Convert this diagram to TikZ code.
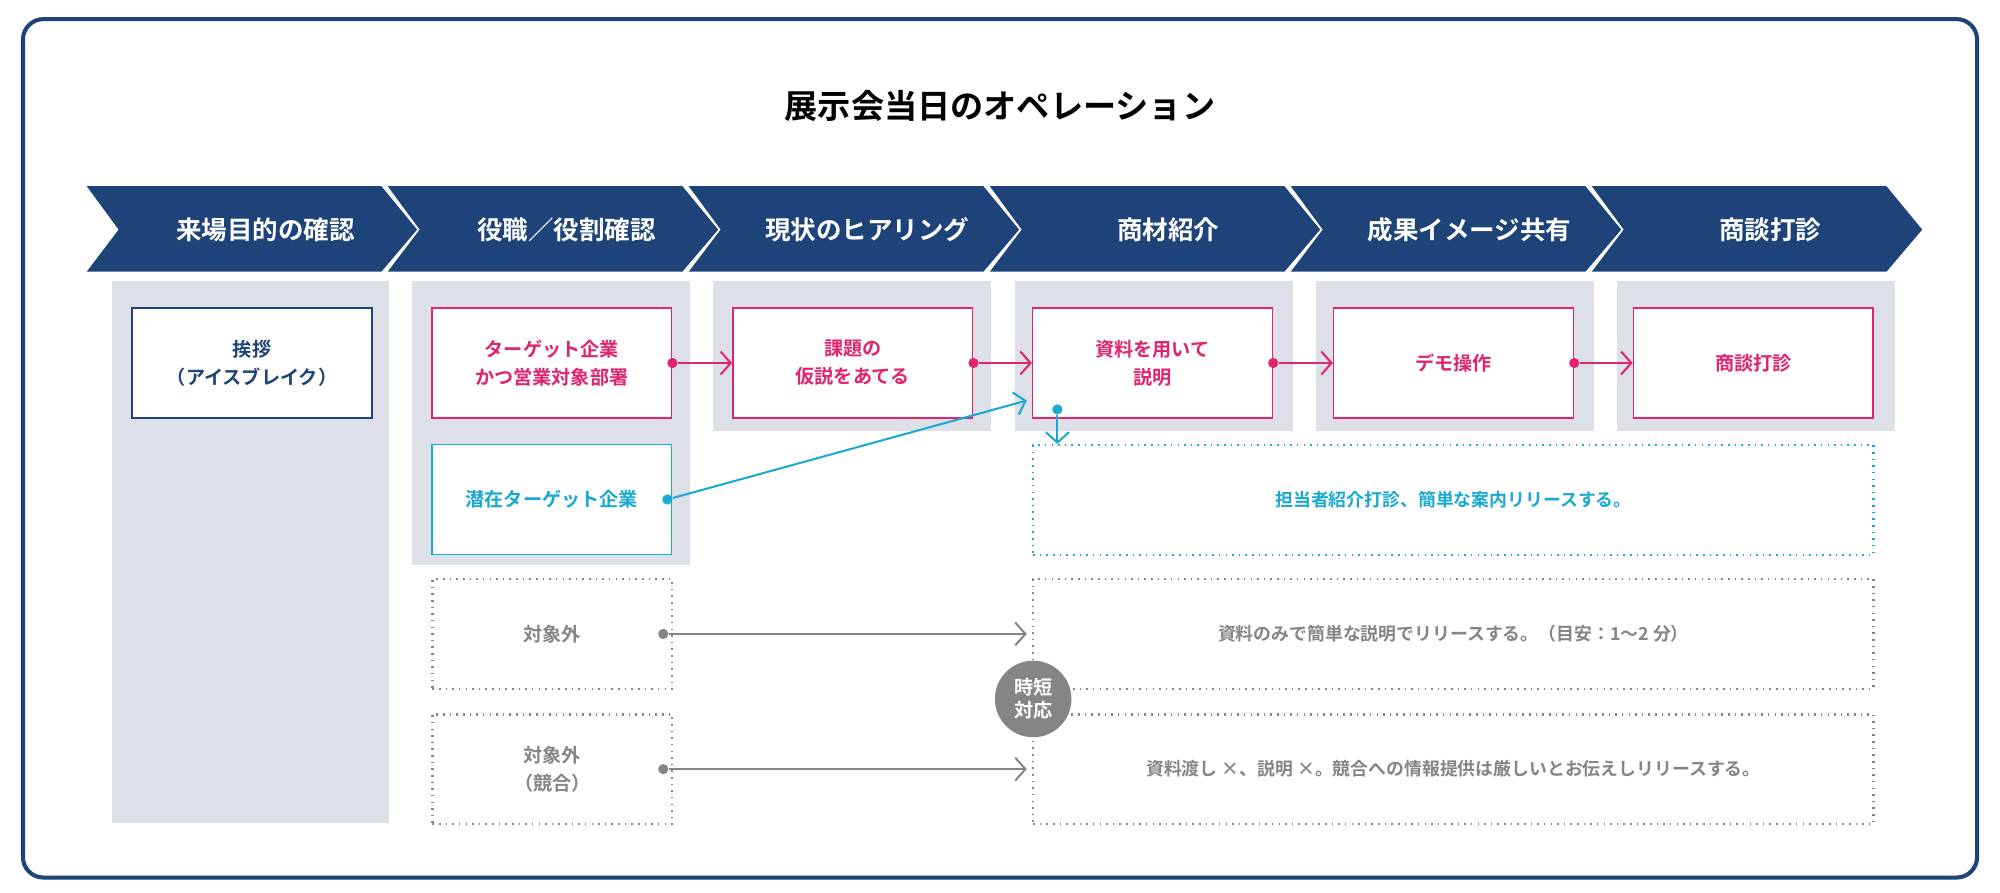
\documentclass[tikz,border=0pt]{standalone}
\usepackage{fontspec}
\setmainfont{Noto Sans CJK JP}[BoldFont={* Bold}]
\usetikzlibrary{arrows.meta}
\definecolor{navy}{HTML}{1E4379}
\definecolor{pink}{HTML}{E0246E}
\definecolor{cyan}{HTML}{19A9D1}
\definecolor{gry}{HTML}{858585}
\definecolor{lgray}{HTML}{DDE0E6}
\tikzset{
  box/.style={draw,line width=0.6pt,fill=white,minimum width=94pt,minimum height=43pt,
    align=center,font=\fontsize{7.5}{11}\selectfont\bfseries,anchor=north west},
  pinkbox/.style={box,draw=pink,text=pink},
  dotbox/.style={box,draw=gry,text=gry,dotted,line width=1pt},
  widebox/.style={dotbox,minimum width=329.5pt,font=\fontsize{7}{10}\selectfont\bfseries},
  pinkarrow/.style={pink,line width=0.8pt,-{Straight Barb[length=4pt,width=9pt]}},
  dot/.style={circle,fill,inner sep=0pt,minimum size=4pt}
}
\begin{document}
\begin{tikzpicture}[x=0.5pt,y=-0.5pt]
\useasboundingbox (0,0) rectangle (1568,700);
% frame and title
\draw[navy,line width=1.6pt,rounded corners=8pt] (18,15) rectangle (1550,688);
\node[font=\fontsize{13}{15}\selectfont\bfseries] (title) at (784,83) {展示会当日のオペレーション};

% steps
\foreach \s/\txt in {68/来場目的の確認,304/役職／役割確認,540/現状のヒアリング,776/商材紹介,1012/成果イメージ共有,1248/商談打診} {
  \fill[navy] (\s,146) -- ++(231,0) -- ++(28,34) -- ++(-28,33) -- ++(-231,0) -- ++(25,-33) -- cycle;
  \node[white,font=\fontsize{10}{12}\selectfont\bfseries] at (\s+140,180) {\txt};
}

% columns
\fill[lgray] (88,220) rectangle (305,645);
\fill[lgray] (323,220) rectangle (541,443);
\foreach \s in {559,796,1032,1268}
  \fill[lgray] (\s,220) rectangle (\s+218,338);

% boxes
\node[box,draw=navy,text=navy] (greet) at (103,241) {挨拶\\（アイスブレイク）};
\node[pinkbox] (target) at (338,241) {ターゲット企業\\かつ営業対象部署};
\node[pinkbox] (issue) at (574,241) {課題の\\仮説をあてる};
\node[pinkbox] (explain) at (809,241) {資料を用いて\\説明};
\node[pinkbox] (demo) at (1045,241) {デモ操作};
\node[pinkbox] (deal) at (1280,241) {商談打診};
\node[box,draw=cyan,text=cyan] (potential) at (338,348) {潜在ターゲット企業};
\node[dotbox] (out) at (338,453) {対象外};
\node[dotbox] (rival) at (338,559) {対象外\\（競合）};
\node[widebox,draw=cyan,text=cyan] (intro) at (809,348) {担当者紹介打診、簡単な案内リリースする。};
\node[widebox] (short) at (809,453) {資料のみで簡単な説明でリリースする。（目安：1〜2 分）};
\node[widebox] (refuse) at (809,559) {資料渡し ×、説明 ×。競合への情報提供は厳しいとお伝えしリリースする。};
\node[circle,fill=gry,text=white,minimum size=30pt,inner sep=0pt,align=center,
  font=\fontsize{7.5}{9}\selectfont\bfseries] (quick) at (810,548) {時短\\対応};

% connectors
\foreach \a/\b in {target/issue,issue/explain,explain/demo,demo/deal} {
  \node[dot,pink] (d\a) at (\a.east) {};
  \draw[pinkarrow] (d\a) -- (\b.west);
}
\coordinate (cyanend) at (805,314);
\node[dot,cyan] (dpot) at ([xshift=-2pt]potential.east) {};
\draw[cyan,line width=0.8pt,-{Straight Barb[length=4pt,width=9pt]}] (dpot) -- (cyanend);
\node[dot,cyan] (dintro) at (829,321) {};
\draw[cyan,line width=0.8pt,-{Straight Barb[length=4pt,width=9pt]}] (dintro) -- (intro.north -| dintro);
\foreach \a/\b in {out/short,rival/refuse} {
  \node[dot,gry] (d\a) at ([xshift=-4pt]\a.east) {};
  \draw[gry,line width=0.8pt,-{Straight Barb[length=4pt,width=9pt]}] (d\a) -- ([xshift=-2pt]\b.west);
}
\end{tikzpicture}
\end{document}
